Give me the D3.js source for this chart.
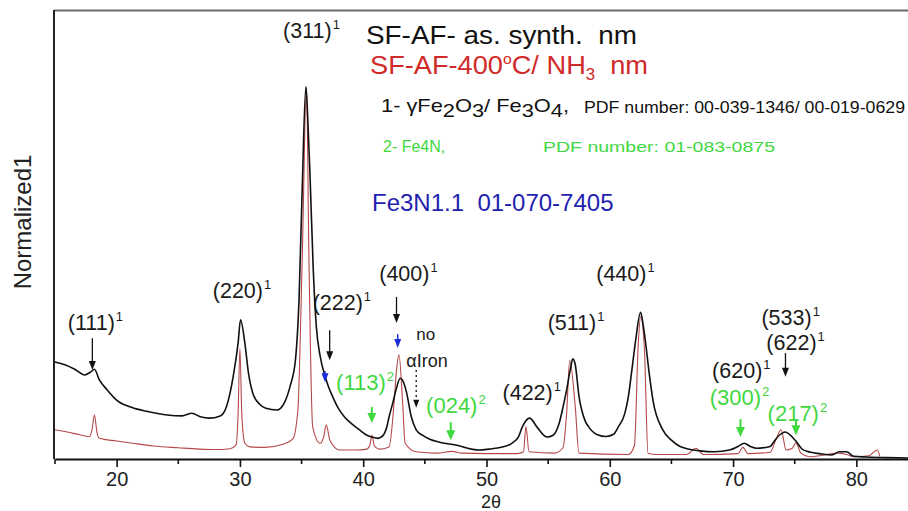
<!DOCTYPE html>
<html>
<head>
<meta charset="utf-8">
<script src="https://cdn.jsdelivr.net/npm/d3@7"></script>
<style>
  body { margin: 0; background: #fff; }
  text { font-family: Arial, "Liberation Sans", Helvetica, sans-serif; white-space: pre; }
</style>
</head>
<body>
<div id="chart"></div>
<script>
// x axis ticks (2 theta, degrees)
const xTicks = [20, 30, 40, 50, 60, 70, 80];
const xMinorTicks = [15, 25, 35, 45, 55, 65, 75, 85];

// as-synthesized pattern [2theta, normalized intensity]
const asSynth = [
  [15.0, 21.6], [15.8, 21.0], [16.6, 20.0], [17.4, 18.7], [17.9, 19.4], [18.2, 20.0], [18.6, 17.6],
  [19.2, 15.5], [20.0, 13.1], [21.3, 11.4], [22.5, 10.6], [24.1, 9.8], [25.3, 9.6], [26.1, 10.2],
  [26.8, 9.4], [27.5, 9.1], [28.4, 9.6], [28.9, 11.6], [29.45, 18.3], [29.85, 25.8], [30.05, 31.0],
  [30.4, 25.8], [30.7, 19.0], [31.05, 14.6], [31.6, 12.2], [32.1, 11.3], [33.0, 10.9], [33.6, 12.5],
  [34.1, 16.5], [34.5, 22.0], [34.8, 36.0], [35.05, 60.0], [35.35, 82.9], [35.5, 76.0], [35.7, 62.0],
  [35.95, 42.0], [36.2, 29.4], [36.5, 23.0], [36.9, 18.5], [37.2, 16.0], [37.5, 14.0], [38.0, 11.2],
  [38.5, 9.3], [39.0, 8.0], [39.7, 6.5], [40.3, 5.3], [40.7, 4.9], [41.2, 4.6], [41.6, 5.2],
  [41.9, 7.0], [42.1, 9.4], [42.4, 12.5], [42.7, 15.8], [43.0, 18.0], [43.2, 17.5], [43.5, 15.0],
  [43.9, 9.4], [44.3, 6.5], [44.8, 5.3], [45.4, 4.4], [46.1, 3.8], [47.5, 3.1], [49.4, 2.0],
  [50.2, 2.2], [51.2, 2.6], [52.1, 3.6], [52.6, 5.0], [52.9, 7.1], [53.5, 9.1], [54.1, 7.1],
  [54.9, 4.9], [55.4, 5.3], [55.9, 8.0], [56.2, 11.5], [56.5, 15.4], [56.8, 20.0], [57.0, 22.3],
  [57.2, 21.0], [57.5, 14.0], [58.0, 8.5], [58.3, 7.1], [59.0, 5.4], [59.7, 5.0], [60.3, 5.5],
  [60.7, 7.2], [61.2, 10.0], [61.5, 13.8], [61.8, 20.0], [62.1, 26.5], [62.5, 32.7], [62.7, 30.0],
  [62.9, 26.0], [63.2, 19.0], [63.5, 13.1], [64.3, 6.5], [65.0, 4.2], [65.7, 2.8], [67.3, 1.8],
  [68.5, 1.6], [69.7, 2.0], [70.4, 2.8], [70.9, 3.5], [71.4, 2.8], [71.9, 2.4], [73.0, 2.8],
  [73.4, 4.2], [73.8, 5.4], [74.2, 6.0], [74.8, 4.9], [75.2, 3.6], [75.6, 2.2], [76.3, 1.5],
  [77.0, 1.2], [78.0, 0.9], [78.6, 1.6], [79.2, 1.6], [79.8, 0.6], [80.8, 0.45], [82.5, 0.3],
  [84.5, 0.2]
];

// 400 C / NH3 treated pattern
const nitrided = [
  [15.0, 6.5], [16.0, 6.0], [17.0, 5.4], [17.8, 5.0], [18.0, 6.5], [18.2, 9.8], [18.4, 6.0],
  [18.6, 4.6], [20.0, 4.0], [21.3, 3.5], [23.0, 2.9], [25.0, 2.5], [26.7, 2.2], [28.0, 2.1],
  [29.2, 2.3], [29.7, 3.2], [29.85, 10.0], [30.0, 24.6], [30.15, 10.0], [30.4, 3.5], [30.8, 2.7],
  [32.0, 2.6], [33.5, 3.3], [34.3, 4.5], [34.7, 10.9], [35.05, 44.3], [35.4, 82.9], [35.6, 44.3],
  [35.9, 7.2], [36.5, 3.5], [36.8, 5.0], [37.0, 7.6], [37.3, 4.2], [38.1, 2.0], [39.4, 2.0],
  [40.3, 2.2], [40.55, 3.2], [40.7, 5.3], [40.9, 3.0], [41.3, 2.2], [42.1, 2.7], [42.5, 12.4],
  [42.7, 19.8], [42.9, 23.2], [43.2, 12.4], [43.4, 3.5], [44.3, 1.6], [46.0, 1.3], [47.2, 1.7],
  [48.0, 1.3], [50.0, 1.2], [52.5, 1.2], [53.0, 1.6], [53.2, 7.2], [53.45, 1.6], [55.5, 1.3],
  [56.2, 2.5], [56.5, 10.2], [56.75, 22.0], [57.2, 11.6], [57.5, 1.3], [61.5, 1.0], [62.0, 3.0],
  [62.3, 25.0], [62.5, 31.7], [62.8, 25.0], [63.1, 1.3], [63.8, 1.0], [66.2, 1.0], [67.0, 2.4],
  [67.6, 1.0], [70.4, 1.2], [70.8, 2.6], [71.2, 1.2], [73.0, 1.5], [73.5, 4.5], [73.9, 6.5],
  [74.3, 2.0], [74.8, 2.4], [75.1, 3.6], [75.5, 1.3], [76.2, 0.5], [78.6, 1.3], [79.2, 1.0],
  [79.8, 0.5], [81.0, 0.7], [81.7, 2.0], [81.9, 0.6]
];

// peak labels: oxide phase (1) in black, Fe4N (2) in green
const hklOxide = ["(111)", "(220)", "(311)", "(222)", "(400)", "(422)", "(511)", "(440)", "(620)", "(533)", "(622)"];
const hklOxideT = [16.04, 27.8, 33.5, 35.9, 41.3, 51.3, 54.96, 58.9, 68.3, 72.3, 72.7];
const hklOxideV = [28.7, 35.9, 93.8, 33.2, 39.6, 13.1, 28.7, 39.6, 18.0, 29.8, 24.3];

const hklNitride = ["(113)", "(024)", "(300)", "(217)"];
const hklNitrideT = [37.8, 45.1, 68.1, 72.8];
const hklNitrideV = [15.4, 10.2, 12.0, 8.5];

// marker arrows [2theta, from, to]
const blackArrows = [[18.03, 26.9, 19.8], [37.28, 28.7, 22.0], [42.7, 36.1, 30.3], [74.25, 23.6, 18.3]];
const blueArrows = [[36.9, 19.6, 17.1], [42.8, 27.8, 24.7]];
const greenArrows = [[40.7, 11.6, 8.0], [47.1, 8.2, 4.2], [70.6, 8.9, 4.9], [75.1, 8.9, 5.3]];
const ironArrow = [44.3, 19.8, 11.4];

const width = 908, height = 511;
const margin = { top: 10, bottom: 459, left: 54 };

const svg = d3.select("#chart").append("svg")
  .attr("width", width)
  .attr("height", height);

const x = d3.scaleLinear().domain([15, 85]).range([55, 918]);
const y = d3.scaleLinear().domain([0, 100]).range([margin.bottom, margin.top]);

svg.append("clipPath").attr("id", "plot")
  .append("rect")
  .attr("x", margin.left).attr("y", margin.top)
  .attr("width", width - margin.left).attr("height", margin.bottom - margin.top);

// curves
const line = d3.line()
  .x(d => x(d[0]))
  .y(d => y(d[1]))
  .curve(d3.curveMonotoneX);

const curves = svg.append("g").attr("clip-path", "url(#plot)");
curves.append("path")
  .datum(nitrided)
  .attr("fill", "none")
  .attr("stroke", "#b54848")
  .attr("stroke-width", 1.1)
  .attr("d", line);
curves.append("path")
  .datum(asSynth)
  .attr("fill", "none")
  .attr("stroke", "#111")
  .attr("stroke-width", 1.6)
  .attr("d", line);

// frame
svg.append("line")
  .attr("x1", margin.left).attr("x2", width)
  .attr("y1", margin.top + 0.5).attr("y2", margin.top + 0.5)
  .attr("stroke", "#6a6a6a").attr("stroke-width", 2);
svg.append("line")
  .attr("x1", margin.left).attr("x2", margin.left)
  .attr("y1", margin.top).attr("y2", margin.bottom)
  .attr("stroke", "#222").attr("stroke-width", 2);

// x axis
svg.append("g")
  .attr("transform", `translate(0,${margin.bottom})`)
  .call(d3.axisBottom(x).tickValues(xTicks).tickSize(8).tickSizeOuter(0).tickPadding(5))
  .call(g => g.select(".domain").attr("stroke", "#111").attr("stroke-width", 2))
  .call(g => g.selectAll(".tick line").attr("stroke", "#111").attr("stroke-width", 1.6))
  .call(g => g.selectAll(".tick text")
    .attr("fill", "#222")
    .style("font-size", "20px")
    .style("font-family", "Arial, 'Liberation Sans', sans-serif"));

svg.append("g")
  .attr("transform", `translate(0,${margin.bottom})`)
  .selectAll("line")
  .data(xMinorTicks)
  .join("line")
  .attr("x1", d => x(d)).attr("x2", d => x(d))
  .attr("y1", 0).attr("y2", 5)
  .attr("stroke", "#111").attr("stroke-width", 1.6);

// axis titles
svg.append("text")
  .attr("x", 491).attr("y", 508)
  .attr("text-anchor", "middle")
  .attr("fill", "#222")
  .style("font-size", "18px")
  .text("2θ");

svg.append("text")
  .attr("transform", "translate(31,222) rotate(-90)")
  .attr("text-anchor", "middle")
  .attr("fill", "#222")
  .style("font-size", "24px")
  .text("Normalized1");

// peak labels
function hklLabel(label, t, v, sup, color, size) {
  const txt = svg.append("text")
    .attr("x", x(t)).attr("y", y(v))
    .attr("fill", color)
    .style("font-size", size + "px");
  txt.append("tspan").text(label);
  txt.append("tspan")
    .attr("dy", -size * 0.42)
    .attr("dx", 1)
    .style("font-size", (size * 0.6) + "px")
    .text(sup);
}
hklOxide.forEach((d, i) => hklLabel(d, hklOxideT[i], hklOxideV[i], "1", "#1a1a1a", 21.5));
hklNitride.forEach((d, i) => hklLabel(d, hklNitrideT[i], hklNitrideV[i], "2", "#3fd83f", 22));

// arrows
function arrow(a, color, shaft, headLen, headW, dashed) {
  const xp = x(a[0]), y0 = y(a[1]), y1 = y(a[2]);
  svg.append("line")
    .attr("x1", xp).attr("x2", xp)
    .attr("y1", y0).attr("y2", y1 - headLen + 1)
    .attr("stroke", color)
    .attr("stroke-width", shaft)
    .attr("stroke-dasharray", dashed ? "2,3" : null);
  svg.append("path")
    .attr("d", `M${xp - headW / 2},${y1 - headLen} L${xp + headW / 2},${y1 - headLen} L${xp},${y1} Z`)
    .attr("fill", color);
}
blackArrows.forEach(a => arrow(a, "#111", 1.3, 9, 7, false));
blueArrows.forEach(a => arrow(a, "#1c2fd6", 1.5, 9, 7, false));
greenArrows.forEach(a => arrow(a, "#3fd83f", 2, 10, 9, false));
arrow(ironArrow, "#111", 1.3, 8, 6, true);

svg.append("text")
  .attr("x", x(44.3)).attr("y", y(26.5))
  .attr("fill", "#1a1a1a").style("font-size", "17px")
  .text("no");
svg.append("text")
  .attr("x", x(43.5)).attr("y", y(20.5))
  .attr("fill", "#1a1a1a").style("font-size", "18px")
  .text("αIron");

// legend / phase notes
svg.append("text").attr("x", 366).attr("y", 44)
  .attr("fill", "#111").style("font-size", "26px")
  .attr("textLength", 271).attr("lengthAdjust", "spacingAndGlyphs")
  .text("SF-AF- as. synth.  nm");

const l2 = svg.append("text").attr("x", 370).attr("y", 74)
  .attr("fill", "#d12a2a").style("font-size", "26px")
  .attr("textLength", 278).attr("lengthAdjust", "spacingAndGlyphs");
l2.append("tspan").text("SF-AF-400");
l2.append("tspan").attr("dy", -10).style("font-size", "15px").text("o");
l2.append("tspan").attr("dy", 10).text("C/ NH");
l2.append("tspan").attr("dy", 6).style("font-size", "16px").text("3");
l2.append("tspan").attr("dy", -6).text("  nm");

const l3 = svg.append("text").attr("x", 381).attr("y", 112)
  .attr("fill", "#111").style("font-size", "19px")
  .attr("textLength", 188).attr("lengthAdjust", "spacingAndGlyphs");
l3.append("tspan").text("1- γFe");
l3.append("tspan").attr("dy", 5).text("2");
l3.append("tspan").attr("dy", -5).text("O");
l3.append("tspan").attr("dy", 5).text("3");
l3.append("tspan").attr("dy", -5).text("/ Fe");
l3.append("tspan").attr("dy", 5).text("3");
l3.append("tspan").attr("dy", -5).text("O");
l3.append("tspan").attr("dy", 5).text("4");
l3.append("tspan").attr("dy", -5).text(",");

svg.append("text").attr("x", 584).attr("y", 113)
  .attr("fill", "#111").style("font-size", "16px")
  .attr("textLength", 321).attr("lengthAdjust", "spacingAndGlyphs")
  .text("PDF number: 00-039-1346/ 00-019-0629");

svg.append("text").attr("x", 383).attr("y", 152)
  .attr("fill", "#3fd83f").style("font-size", "16px")
  .text("2- Fe4N,");
svg.append("text").attr("x", 543).attr("y", 152)
  .attr("fill", "#3fd83f").style("font-size", "15px")
  .attr("textLength", 232).attr("lengthAdjust", "spacingAndGlyphs")
  .text("PDF number: 01-083-0875");

svg.append("text").attr("x", 372).attr("y", 211)
  .attr("fill", "#1f1fb0").style("font-size", "24px")
  .text("Fe3N1.1  01-070-7405");
</script>
</body>
</html>
